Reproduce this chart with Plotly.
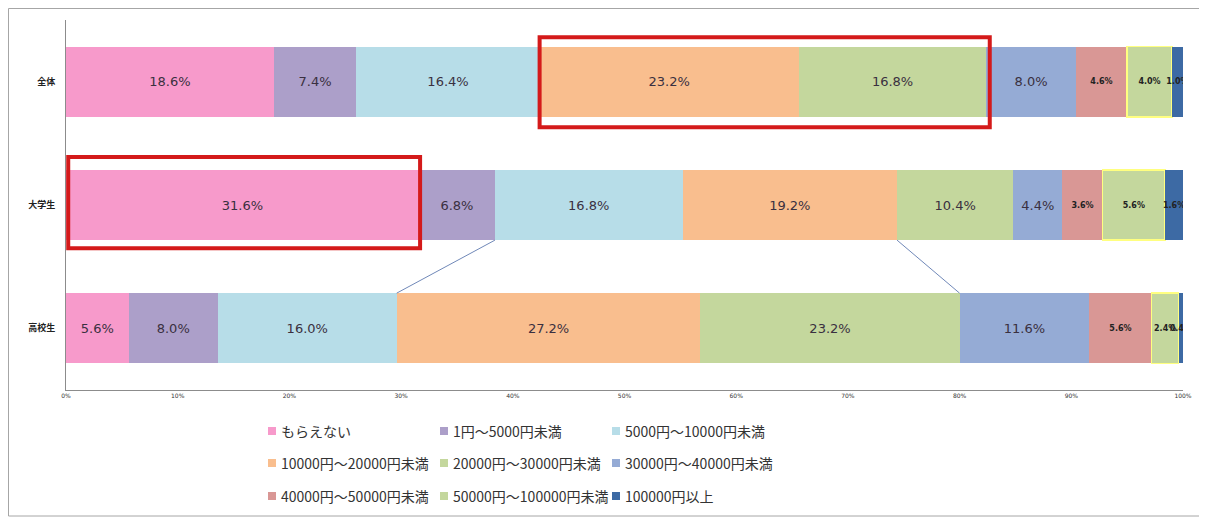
import plotly.graph_objects as go
import numpy as np

categories = ["全体", "大学生", "高校生"]
series_names = ["もらえない", "1円～5000円未満", "5000円～10000円未満",
                "10000円～20000円未満", "20000円～30000円未満", "30000円～40000円未満",
                "40000円～50000円未満", "50000円～100000円未満", "100000円以上"]
v_all = [18.6, 7.4, 16.4, 23.2, 16.8, 8.0, 4.6, 4.0, 1.0]
v_univ = [31.6, 6.8, 16.8, 19.2, 10.4, 4.4, 3.6, 5.6, 1.6]
v_high = [5.6, 8.0, 16.0, 27.2, 23.2, 11.6, 5.6, 2.4, 0.4]
x_ticks = list(range(0, 101, 10))
x_tick_labels = [f"{t}%" for t in x_ticks]

colors = ["#F79ACB", "#AC9FC9", "#B7DDE8", "#F9BE8E", "#C4D79D",
          "#95ABD5", "#D99795", "#C4D79D", "#3D6AA4"]

# the page body has an 8px margin; figure coordinates = window coordinates - 8
OFF = 8
W, H = 1199, 510
L, R, T, B = 58, 24, 12, 128
PW = W - L - R
PH = H - T - B

def px2paper_x(px):
    return (px - OFF - L) / PW

def px2paper_y(py):
    return (H - B - (py - OFF)) / PH

fig = go.Figure()
data = [v_all, v_univ, v_high]
for i, name in enumerate(series_names):
    vals = [d[i] for d in data]
    small = i >= 6
    fig.add_trace(go.Bar(
        y=categories, x=vals, orientation="h", name=name,
        marker=dict(color=colors[i],
                    line=dict(color="#FFFF80" if i == 7 else colors[i], width=1.5 if i == 7 else 0)),
        texttemplate="%{x:.1f}%", textposition="inside", textangle=0,
        insidetextanchor="middle", constraintext="none",
        textfont=dict(family="DejaVu Sans", size=8 if small else 13,
                      color="#222222" if small else "#3a3040",
                      weight="bold" if small else "normal"),
        showlegend=False, hoverinfo="skip",
    ))

half = 0.57 / 2
cum = [np.cumsum(d) for d in data]
shapes = []
# connector lines between 大学生 and 高校生
for a, b in [(1, 2), (3, 4)]:
    shapes.append(dict(type="line", xref="x", yref="y",
                       x0=cum[1][a], y0=1 + half, x1=cum[2][b], y1=2 - half,
                       line=dict(color="#7088B8", width=1)))
# highlight rectangles
shapes.append(dict(type="rect", xref="x", yref="y",
                   x0=cum[0][2], x1=cum[0][4] + 0.3, y0=-0.36, y1=0.37,
                   line=dict(color="#D41A1A", width=4)))
shapes.append(dict(type="rect", xref="x", yref="y",
                   x0=0.2, x1=cum[1][0] + 0.1, y0=0.61, y1=1.35,
                   line=dict(color="#D41A1A", width=4)))
# outer border
shapes.append(dict(type="rect", xref="paper", yref="paper",
                   x0=px2paper_x(8.5), x1=px2paper_x(1203.5),
                   y0=px2paper_y(516), y1=px2paper_y(8.5),
                   line=dict(color="#A6A6A6", width=1)))

# manual legend
annotations = []
col_x = [268, 440, 612]
row_y = [431, 463, 496]
for i, name in enumerate(series_names):
    r, c = divmod(i, 3)
    mx, my = col_x[c], row_y[r]
    shapes.append(dict(type="rect", xref="paper", yref="paper",
                       x0=px2paper_x(mx), x1=px2paper_x(mx + 8),
                       y0=px2paper_y(my + 4), y1=px2paper_y(my - 4),
                       fillcolor=colors[i], line=dict(width=0)))
    annotations.append(dict(xref="paper", yref="paper", x=px2paper_x(mx + 11),
                            y=px2paper_y(my), text=name, showarrow=False,
                            xanchor="left", yanchor="middle",
                            font=dict(family="Noto Sans CJK JP", size=14, color="#333333")))

fig.update_layout(
    width=W, height=H,
    margin=dict(l=L, r=R, t=T, b=B, autoexpand=False),
    barmode="stack", bargap=0.43,
    plot_bgcolor="white", paper_bgcolor="white",
    shapes=shapes, annotations=annotations,
    xaxis=dict(range=[0, 100], tickvals=x_ticks, ticktext=x_tick_labels,
               showgrid=False, zeroline=False, showline=True,
               linecolor="#8C8C8C", linewidth=1, ticks="",
               tickfont=dict(family="DejaVu Sans", size=6, color="#333333")),
    yaxis=dict(categoryorder="array", categoryarray=categories,
               autorange="reversed", showgrid=False, zeroline=False,
               showline=True, linecolor="#8C8C8C", linewidth=1, ticks="",
               ticklabelstandoff=8,
               tickfont=dict(family="Noto Sans CJK JP", size=9, color="#222222",
                             weight="bold")),
)

fig.write_html("out.html")
